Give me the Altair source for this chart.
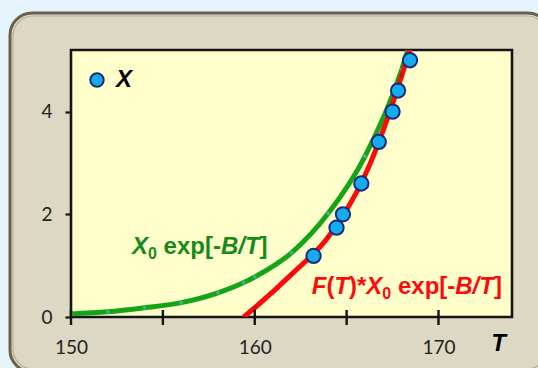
import altair as alt
import pandas as pd

# Measured values X(T)
T_obs = [163.2, 164.45, 164.8, 165.8, 166.75, 167.5, 167.8, 168.45]
X_obs = [1.19, 1.74, 2.00, 2.60, 3.41, 4.00, 4.41, 5.00]

# X0 exp[-B/T]
T_arr = [150, 152, 154, 156, 158, 159.4, 160, 162, 164, 166, 168, 169]
X_arr = [0.06, 0.10, 0.18, 0.28, 0.47, 0.67, 0.78, 1.25, 2.02, 3.13, 4.82, 6.05]

# F(T)*X0 exp[-B/T]
T_fit = [159.4, 160, 162, 164, 166, 168, 169]
X_fit = [0.0, 0.18, 0.83, 1.56, 2.76, 4.70, 5.90]

# Axis ticks and labels
T_ticks = [150, 155, 160, 165, 170]
T_labels = [150, 160, 170]
X_labels = [0, 2, 4]

# Anchors (left end of baseline) of the two curve labels, in data units
label_T = [153.32, 163.10]
label_X = [1.221, 0.442]

W, H = 441, 267
BLUE, NAVY = "#14ACEE", "#1F2A7A"
GREEN, GREEN_TXT = "#16A316", "#178A17"
RED = "#FF0A0A"
FONT = "Liberation Sans"

xs = alt.Scale(domain=[150, 174], nice=False, zero=False)
ys = alt.Scale(domain=[0, 5.2], nice=False, zero=False)

one = pd.DataFrame({"k": [0]})

# Rounded grey-beige panel behind the plot
panel = alt.Chart(one).mark_rect(
    cornerRadius=22, fill="#DDD8C4", stroke="#67624B", strokeWidth=3
).encode(x=alt.value(-61), x2=alt.value(479), y=alt.value(-37), y2=alt.value(322))
panel_inner = alt.Chart(one).mark_rect(
    cornerRadius=20, fill="transparent", stroke="#B4AF98", strokeWidth=1.2
).encode(x=alt.value(-58), x2=alt.value(476), y=alt.value(-34), y2=alt.value(319))

# Plot area with black frame
frame = alt.Chart(one).mark_rect(
    fill="#FFFFCC", stroke="#141414", strokeWidth=2.6
).encode(x=alt.value(0), x2=alt.value(W), y=alt.value(0), y2=alt.value(H))

x_axis = alt.Axis(
    values=T_labels, ticks=False, domain=False, grid=False, labelFlush=False,
    labelFont="Lato", labelFontSize=19, labelColor="#222222", labelPadding=21,
    title="T", titleX=427, titleY=33, titleFont=FONT, titleFontSize=24,
    titleFontStyle="italic", titleFontWeight="bold", titleColor="black",
    titleBaseline="alphabetic", titleAlign="center", zindex=2,
)
y_axis = alt.Axis(
    values=X_labels, ticks=True, tickSize=6, tickWidth=2.2, tickColor="#141414",
    domain=False, grid=False, labelFlush=False, labelFont="Lato", labelFontSize=19,
    labelColor="#222222", labelPadding=13, title=None, zindex=2,
)

curve_df = pd.DataFrame({"T": T_arr, "X": X_arr})
fit_df = pd.DataFrame({"T": T_fit, "X": X_fit})
obs_df = pd.DataFrame({"T": T_obs, "X": X_obs, "series": ["X"] * len(T_obs)})
tick_df = pd.DataFrame({"T": T_ticks})

green_line = alt.Chart(curve_df).mark_line(
    color=GREEN, strokeWidth=5, interpolate="monotone", clip=True
).encode(x=alt.X("T:Q", scale=xs, axis=x_axis), y=alt.Y("X:Q", scale=ys, axis=y_axis))
green_dots = alt.Chart(curve_df).mark_point(
    filled=True, size=14, color="#3BB58A", opacity=1, clip=True
).encode(x=alt.X("T:Q", scale=xs), y=alt.Y("X:Q", scale=ys))

red_line = alt.Chart(fit_df).mark_line(
    color=RED, strokeWidth=5, interpolate="monotone", clip=True
).encode(x=alt.X("T:Q", scale=xs), y=alt.Y("X:Q", scale=ys))
red_dots = alt.Chart(fit_df).mark_point(
    filled=True, size=14, color="#C81010", opacity=1, clip=True
).encode(x=alt.X("T:Q", scale=xs), y=alt.Y("X:Q", scale=ys))

x_ticks = alt.Chart(tick_df).mark_rule(color="#141414", strokeWidth=2.4).encode(
    x=alt.X("T:Q", scale=xs), y=alt.value(H - 7), y2=alt.value(H + 8)
)

points = alt.Chart(obs_df).mark_circle(
    size=205, stroke=NAVY, strokeWidth=2, opacity=1
).encode(
    x=alt.X("T:Q", scale=xs),
    y=alt.Y("X:Q", scale=ys),
    fill=alt.Fill(
        "series:N",
        scale=alt.Scale(domain=["X"], range=[BLUE]),
        legend=alt.Legend(
            orient="none", legendX=14, legendY=18, title=None, padding=0,
            symbolType="circle", symbolSize=180, symbolStrokeColor=NAVY,
            symbolStrokeWidth=2, symbolOpacity=1, labelFont=FONT,
            labelFontSize=24, labelFontStyle="italic", labelFontWeight="bold",
            labelColor="black", labelOffset=7,
        ),
    ),
)

# Curve labels built from runs of upright / italic / subscript text
ADV = {"X": 667, "0": 556, " ": 278, "e": 556, "x": 556, "p": 611, "[": 333,
       "-": 333, "B": 722, "/": 278, "T": 611, "]": 333, "F": 611, "(": 333,
       ")": 333, "*": 389}


def advance(s, size):
    return sum(ADV[c] for c in s) * size / 1000.0


# (text, italic, subscript, leading gap in spaces)
green_parts = [("X", True, False, 0), ("0", False, True, 0), ("exp[-", False, False, 1),
               ("B/T", True, False, 0), ("]", False, False, 0)]
red_parts = [("F", True, False, 0), ("(", False, False, 0), ("T", True, False, 0),
             (")", False, False, 0), ("*", False, False, 0), ("X", True, False, 0),
             ("0", False, True, 0), ("exp[-", False, False, 1), ("B/T", True, False, 0),
             ("]", False, False, 0)]


def label_layers(parts, idx, color):
    anchor = pd.DataFrame({"T": [label_T[idx]], "X": [label_X[idx]]})
    out, pos = [], 0.0
    for text, italic, sub, gap in parts:
        size = 16 if sub else 24
        pos += advance(" " * gap, size)
        out.append(
            alt.Chart(anchor).mark_text(
                text=text, align="left", baseline="alphabetic", dx=pos,
                dy=5 if sub else 0, font=FONT, fontSize=size, fontWeight="bold",
                fontStyle="italic" if italic else "normal", color=color,
            ).encode(x=alt.X("T:Q", scale=xs), y=alt.Y("X:Q", scale=ys))
        )
        pos += advance(text, size)
    return out


texts = label_layers(green_parts, 0, GREEN_TXT) + label_layers(red_parts, 1, RED)

chart = alt.layer(
    panel, panel_inner, frame, green_line, green_dots, red_line, red_dots,
    x_ticks, points, *texts
).properties(
    width=W, height=H,
    autosize=alt.AutoSizeParams(type="none"),
    padding={"left": 71, "top": 50, "right": 26, "bottom": 51},
    background="#E5F3FB",
).configure_view(stroke=None)

chart.save("out.html", embed_options={"renderer": "svg", "actions": False})
